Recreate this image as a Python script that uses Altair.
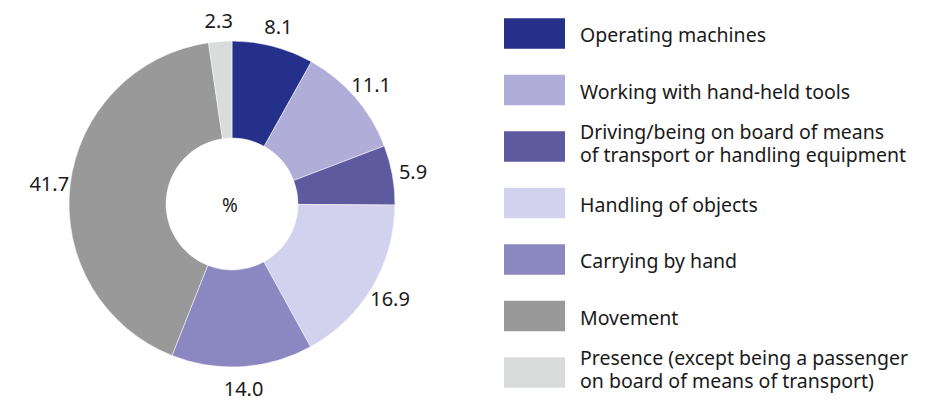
import altair as alt
import pandas as pd

categories = [
    "Operating machines",
    "Working with hand-held tools",
    "Driving/being on board of means of transport or handling equipment",
    "Handling of objects",
    "Carrying by hand",
    "Movement",
    "Presence (except being a passenger on board of means of transport)",
]
legend_lines = [
    ["Operating machines"],
    ["Working with hand-held tools"],
    ["Driving/being on board of means", "of transport or handling equipment"],
    ["Handling of objects"],
    ["Carrying by hand"],
    ["Movement"],
    ["Presence (except being a passenger", "on board of means of transport)"],
]
values = [8.1, 11.1, 5.9, 16.9, 14.0, 41.7, 2.3]
colors = ["#25308a", "#b0aed8", "#5e5aa0", "#d2d2ee", "#8b87c1", "#999999", "#dadcdb"]

FONT = "Noto Sans"
TXT = "#1a1a1a"

df = pd.DataFrame({
    "cat": categories,
    "value": values,
    "order": list(range(len(categories))),
    "label": [f"{v:.1f}" for v in values],
    "legend": legend_lines,
    "nlines": [len(l) for l in legend_lines],
})

color_scale = alt.Scale(domain=categories, range=colors)

base = alt.Chart(df).encode(
    theta=alt.Theta("value:Q", stack=True),
    order=alt.Order("order:Q"),
)

arcs = base.mark_arc(outerRadius=163, innerRadius=66, stroke="white", strokeWidth=0.5).encode(
    color=alt.Color("cat:N", scale=color_scale, legend=None)
)
labels = base.mark_text(radius=184, dy=2, font=FONT, fontSize=20, color=TXT).encode(
    text="label:N"
)
center = alt.Chart(pd.DataFrame({"t": ["%"]})).mark_text(
    font=FONT, fontSize=19, color=TXT
).encode(text="t:N", x=alt.value(222), y=alt.value(198))

pie = alt.layer(arcs, labels, center).properties(width=448, height=392)

ypos = alt.Y("order:Q", scale=alt.Scale(domain=[0, 6], range=[25.5, 364.5]), axis=None)

boxes = alt.Chart(df).mark_point(
    shape="M-1,-0.5H1V0.5H-1Z", size=3721, filled=True, opacity=1, strokeWidth=0
).encode(
    x=alt.value(78.5),
    y=ypos,
    color=alt.Color("cat:N", scale=color_scale, legend=None),
)
text_props = dict(align="left", baseline="middle", font=FONT, fontSize=19.5, lineHeight=23, color=TXT)
ltext1 = alt.Chart(df).transform_filter("datum.nlines == 1").mark_text(dy=2.5, **text_props).encode(
    x=alt.value(124), y=ypos, text="legend"
)
ltext2 = alt.Chart(df).transform_filter("datum.nlines == 2").mark_text(dy=-13.5, **text_props).encode(
    x=alt.value(124), y=ypos, text="legend"
)
legend = alt.layer(boxes, ltext1, ltext2).properties(width=461, height=392)

chart = alt.hconcat(pie, legend, spacing=0).properties(padding=0).configure_view(stroke=None)

chart.save("out.html", embed_options={"renderer": "svg", "actions": False})
